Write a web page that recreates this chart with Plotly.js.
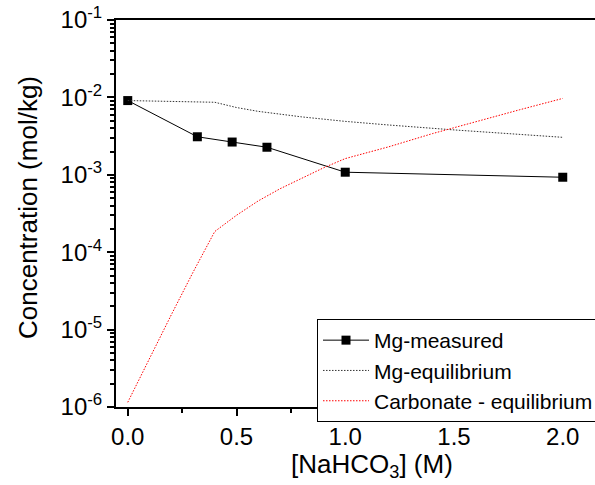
<!DOCTYPE html>
<html>
<head>
<meta charset="utf-8">
<script src="https://cdn.plot.ly/plotly-3.0.1.min.js"></script>
<style>
html,body{margin:0;padding:0;overflow:hidden;background:#fff;}
#wrap{width:595px;height:485px;overflow:hidden;position:relative;}
#chart{width:630px;height:485px;}
</style>
</head>
<body>
<div id="wrap"><div id="chart"></div></div>
<script>
// Mg-measured
const measX = [0.0, 0.32, 0.48, 0.64, 1.0, 2.0];
const measY = [9.1e-3, 3.1e-3, 2.65e-3, 2.27e-3, 1.08e-3, 9.3e-4];
// Mg-equilibrium
const mgEqX = [0.0, 0.4, 0.5, 0.6, 0.8, 1.0, 1.2, 1.5, 2.0];
const mgEqY = [9.1e-3, 8.65e-3, 7.4e-3, 6.6e-3, 5.6e-3, 4.9e-3, 4.4e-3, 3.8e-3, 3.05e-3];
// Carbonate - equilibrium
const carbX = [0.0, 0.1, 0.2, 0.3, 0.4, 0.5, 0.6, 0.7, 0.8, 0.9, 1.0, 1.2, 1.4, 1.6, 1.8, 2.0];
const carbY = [1.15e-6, 4.3e-6, 1.55e-5, 5.5e-5, 1.85e-4, 3.0e-4, 4.6e-4, 6.6e-4, 9.1e-4, 1.23e-3, 1.62e-3, 2.3e-3, 3.4e-3, 4.9e-3, 6.9e-3, 9.7e-3];

const yTickVals = [1e-6, 1e-5, 1e-4, 1e-3, 1e-2, 1e-1];
const yTickText = ['10<sup>-6</sup>','10<sup>-5</sup>','10<sup>-4</sup>','10<sup>-3</sup>','10<sup>-2</sup>','10<sup>-1</sup>'];
const xTickVals = [0.0, 0.5, 1.0, 1.5, 2.0];
const xTickText = ['0.0', '0.5', '1.0', '1.5', '2.0'];

const FONT = 'Arial, Liberation Sans, sans-serif';

const traces = [
  {x: measX, y: measY, name: 'Mg-measured', type: 'scatter', mode: 'lines+markers',
   line: {color: '#000', width: 1}, marker: {symbol: 'square', size: 9, color: '#000'}},
  {x: mgEqX, y: mgEqY, name: 'Mg-equilibrium', type: 'scatter', mode: 'lines',
   line: {color: '#333', width: 1, dash: '1.5px,1.5px'}},
  {x: carbX, y: carbY, name: 'Carbonate - equilibrium', type: 'scatter', mode: 'lines',
   line: {color: '#ff0000', width: 1, dash: '1.5px,1.5px'}}
];

const L = 116, R = 628, T = 20, B = 407, W = 630, H = 485;

const layout = {
  width: W, height: H,
  margin: {l: L, r: W - R, t: T, b: H - B, autoexpand: false},
  paper_bgcolor: '#fff', plot_bgcolor: '#fff',
  font: {family: FONT, color: '#000', size: 22},
  showlegend: true,
  xaxis: {
    range: [-0.054, 2.30], showgrid: false, zeroline: false,
    showline: true, linecolor: '#000', linewidth: 2, mirror: true,
    tickmode: 'array', tickvals: xTickVals, ticktext: xTickText,
    ticks: 'outside', ticklen: 7, tickwidth: 2, tickcolor: '#000',
    tickfont: {size: 24, family: FONT, color: '#000'},
    minor: {dtick: 0.25, tick0: 0, ticks: 'outside', ticklen: 4, tickwidth: 2, tickcolor: '#000', showgrid: false}
  },
  yaxis: {
    type: 'log', range: [-6, -1], showgrid: false, zeroline: false,
    showline: true, linecolor: '#000', linewidth: 2, mirror: false,
    tickmode: 'array', tickvals: yTickVals, ticktext: yTickText,
    ticks: 'outside', ticklen: 7, tickwidth: 2, tickcolor: '#000',
    tickfont: {size: 24, family: FONT, color: '#000'},
    minor: {dtick: 'D1', ticks: 'outside', ticklen: 4, tickwidth: 2, tickcolor: '#000', showgrid: false}
  },
  legend: {
    x: (317 - L) / (R - L), y: (B - 319) / (B - T), xanchor: 'left', yanchor: 'top',
    bgcolor: '#fff', bordercolor: '#000', borderwidth: 1,
    font: {size: 21, family: FONT, color: '#000'}, tracegroupgap: 0, itemwidth: 46
  },
  annotations: [
    {text: 'Concentration (mol/kg)', xref: 'paper', yref: 'paper',
     x: (28 - L) / (R - L), y: (B - 208) / (B - T), xanchor: 'center', yanchor: 'middle',
     textangle: -90, showarrow: false, font: {size: 26, family: FONT, color: '#000'}},
    {text: '[NaHCO<sub>3</sub>] (M)', xref: 'paper', yref: 'paper',
     x: (372 - L) / (R - L), y: (B - 465) / (B - T), xanchor: 'center', yanchor: 'middle',
     showarrow: false, font: {size: 26, family: FONT, color: '#000'}}
  ]
};

Plotly.newPlot('chart', traces, layout, {displayModeBar: false, staticPlot: true});
</script>
</body>
</html>
